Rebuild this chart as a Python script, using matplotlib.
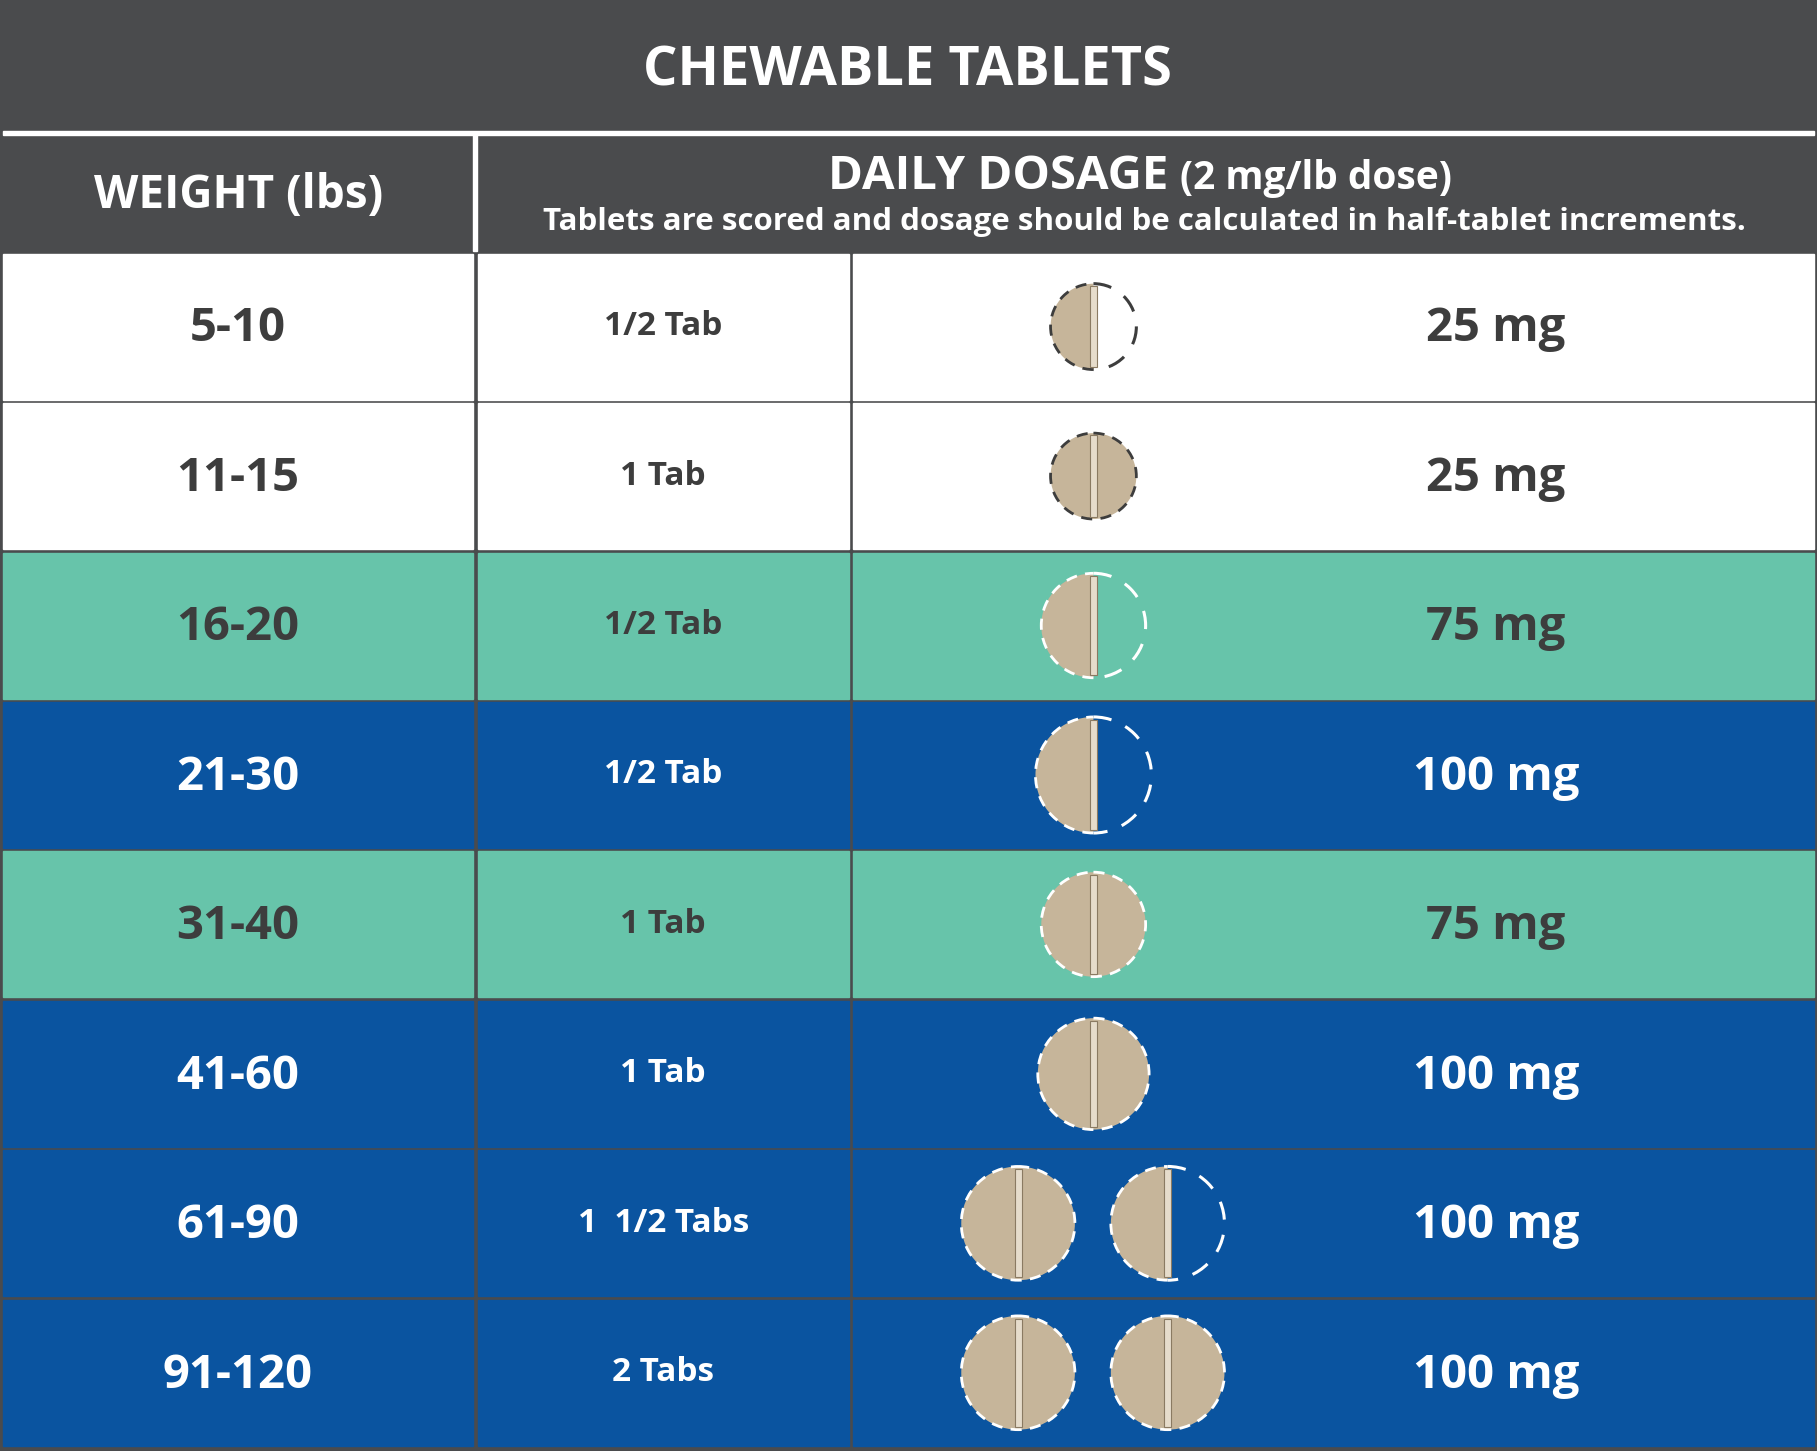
import matplotlib
matplotlib.use("Agg")
import matplotlib.pyplot as plt
from matplotlib.patches import Rectangle, Circle, Wedge, Arc

weights = ["5-10", "11-15", "16-20", "21-30", "31-40", "41-60", "61-90", "91-120"]
tab_labels = ["1/2 Tab", "1 Tab", "1/2 Tab", "1/2 Tab", "1 Tab", "1 Tab", "1  1/2 Tabs", "2 Tabs"]
tablets = [[0.5], [1], [0.5], [0.5], [1], [1], [1, 0.5], [1, 1]]
strengths = ["25 mg", "25 mg", "75 mg", "100 mg", "75 mg", "100 mg", "100 mg", "100 mg"]
row_kind = ["white", "white", "teal", "blue", "teal", "blue", "blue", "blue"]
tablet_r = [37, 37, 45, 50, 45, 48, 49, 49]

W, H = 1567, 1250
DARK = "#4a4b4d"
fills = {"white": "#ffffff", "teal": "#67c4aa", "blue": "#0a54a0"}
txtc = {"white": "#3d3d3d", "teal": "#3d3d3d", "blue": "#ffffff"}
FONT = "Open Sans"

fig = plt.figure(figsize=(18.17, 14.51), dpi=100)
ax = fig.add_axes([0, 0, 1, 1])
ax.set_xlim(0, W); ax.set_ylim(H, 0); ax.axis("off")

ax.add_patch(Rectangle((0, 0), W, H, color=DARK))
ax.add_patch(Rectangle((3, 113), W - 6, 3, color="white"))
ax.add_patch(Rectangle((408, 116), 3, 100, color="white"))
ax.text(783, 62, "CHEWABLE TABLETS", ha="center", va="center", color="white",
        fontsize=39, fontweight="bold", family=FONT)
ax.text(206, 168, "WEIGHT (lbs)", ha="center", va="center", color="white",
        fontsize=33, fontweight="bold", family=FONT)
ax.text(1008, 152, "DAILY DOSAGE", ha="right", va="center", color="white",
        fontsize=34, fontweight="bold", family=FONT)
ax.text(1018, 154, "(2 mg/lb dose)", ha="left", va="center", color="white",
        fontsize=28, fontweight="bold", family=FONT)
ax.text(987, 191, "Tablets are scored and dosage should be calculated in half-tablet increments.",
        ha="center", va="center", color="white", fontsize=22.5, fontweight="bold", family=FONT)

top, rh = 217, (1247 - 217) / 8
cols = [(3, 408), (412, 732), (736, W - 3)]

def tablet(cx, cy, r, frac, edge):
    tan = "#c6b59a"
    if frac == 1:
        ax.add_patch(Circle((cx, cy), r, facecolor=tan, edgecolor=edge, lw=2, ls=(0, (4, 3)), zorder=3))
    else:
        ax.add_patch(Wedge((cx, cy), r, 90, 270, facecolor=tan, edgecolor="none", zorder=3))
        ax.add_patch(Arc((cx, cy), 2 * r, 2 * r, theta1=90, theta2=270, color=edge, lw=2, ls=(0, (4, 3)), zorder=4))
        ax.add_patch(Arc((cx, cy), 2 * r, 2 * r, theta1=-90, theta2=90, color=edge, lw=2.2, ls=(0, (6, 5)), zorder=4))
    ax.add_patch(Rectangle((cx - 3, cy - r * 0.95), 6, r * 1.9, facecolor="#e6dccb", edgecolor="#8a7a62", lw=0.8, zorder=5))

for i in range(8):
    y0 = top + i * rh
    k = row_kind[i]
    for (x0, x1) in cols:
        ax.add_patch(Rectangle((x0, y0 + 1.5), x1 - x0, rh - 3, color=fills[k]))
    cy = y0 + rh / 2
    c = txtc[k]
    ax.text(205, cy + 2, weights[i], ha="center", va="center", color=c, fontsize=34, fontweight="bold", family=FONT)
    ax.text(572, cy, tab_labels[i], ha="center", va="center", color=c, fontsize=24, fontweight="bold", family=FONT)
    ax.text(1290, cy + 2, strengths[i], ha="center", va="center", color=c, fontsize=34, fontweight="bold", family=FONT)
    edge = "#3d3d3d" if k == "white" else "white"
    t = tablets[i]
    if len(t) == 1:
        tablet(943, cy, tablet_r[i], t[0], edge)
    else:
        tablet(878, cy, tablet_r[i], t[0], edge)
        tablet(1007, cy, tablet_r[i], t[1], edge)

fig.savefig("out.png", dpi=100, facecolor=DARK)
